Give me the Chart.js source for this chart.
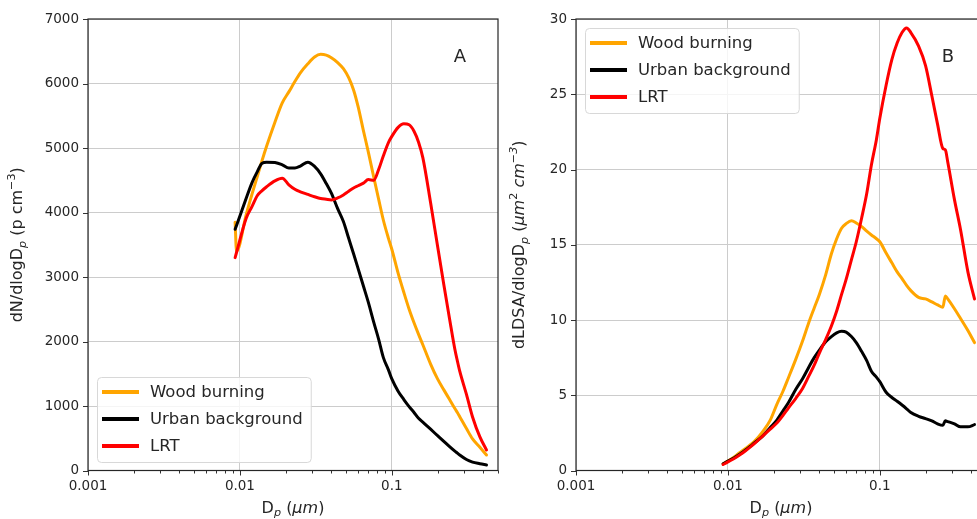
<!DOCTYPE html>
<html>
<head>
<meta charset="utf-8">
<script src="https://cdn.jsdelivr.net/npm/chart.js@4.4.0/dist/chart.umd.min.js"></script>
<style>
  html, body { margin: 0; padding: 0; background: #fff; overflow: hidden; width: 977px; height: 519px; }
  canvas { position: absolute; top: 0; }
  #chartA { left: 0; }
  #chartB { left: 490px; }
</style>
</head>
<body>
<canvas id="chartA" width="500" height="519"></canvas>
<canvas id="chartB" width="500" height="519"></canvas>
<script>
// particle diameter (um)
const diameters = [0.0093, 0.0095, 0.011, 0.012, 0.013, 0.014, 0.015, 0.017, 0.019, 0.021,
  0.023, 0.025, 0.028, 0.031, 0.034, 0.037, 0.040, 0.044, 0.048, 0.052,
  0.056, 0.060, 0.065, 0.070, 0.076, 0.082, 0.088, 0.095, 0.10, 0.11,
  0.12, 0.13, 0.14, 0.15, 0.16, 0.18, 0.20, 0.22, 0.24, 0.26,
  0.27, 0.28, 0.31, 0.34, 0.38, 0.42];

// panel A: dN/dlogDp
const woodN = [3850, 3400, 3968, 4280, 4555, 4808, 5030, 5400, 5700, 5870,
  6030, 6165, 6305, 6410, 6452, 6440, 6400, 6325, 6230, 6090,
  5900, 5640, 5270, 4940, 4550, 4200, 3880, 3600, 3430, 3060,
  2760, 2500, 2290, 2110, 1950, 1650, 1420, 1250, 1100, 960,
  900, 834, 650, 490, 360, 240];
const urbanN = [3740, 3800, 4220, 4460, 4630, 4765, 4780, 4775, 4740, 4690,
  4690, 4720, 4780, 4715, 4600, 4450, 4300, 4060, 3860, 3600,
  3360, 3130, 2860, 2610, 2300, 2030, 1750, 1560, 1420, 1230,
  1100, 990, 900, 810, 750, 640, 540, 450, 370, 300,
  270, 240, 170, 130, 105, 85];
const lrtN = [3300, 3380, 3910, 4090, 4260, 4340, 4400, 4490, 4530, 4430,
  4360, 4320, 4280, 4245, 4218, 4205, 4195, 4225, 4272, 4330,
  4380, 4415, 4455, 4510, 4500, 4670, 4880, 5085, 5180, 5320,
  5375, 5360, 5260, 5090, 4850, 4150, 3480, 2880, 2350, 1880,
  1700, 1540, 1180, 830, 520, 318];

// panel B: dLDSA/dlogDp
const woodLDSA = [0.45, 0.5, 0.9, 1.2, 1.45, 1.7, 1.95, 2.6, 3.35, 4.4,
  5.25, 6.15, 7.4, 8.6, 9.8, 10.8, 11.7, 13.0, 14.4, 15.4,
  16.1, 16.4, 16.6, 16.45, 16.2, 15.9, 15.65, 15.4, 15.2, 14.45,
  13.8, 13.2, 12.75, 12.3, 11.95, 11.5, 11.4, 11.2, 11.0, 10.85,
  11.6, 11.4, 10.75, 10.1, 9.3, 8.5];
const urbanLDSA = [0.45, 0.5, 0.85, 1.1, 1.35, 1.6, 1.85, 2.3, 2.85, 3.35,
  3.95, 4.5, 5.4, 6.1, 6.85, 7.5, 8.0, 8.55, 8.9, 9.15,
  9.25, 9.2, 8.9, 8.5, 7.9, 7.3, 6.6, 6.2, 5.9, 5.2,
  4.85, 4.6, 4.35, 4.1, 3.85, 3.6, 3.45, 3.3, 3.1, 3.0,
  3.3, 3.25, 3.1, 2.9, 2.9, 3.05];
const lrtLDSA = [0.4, 0.45, 0.8, 1.05, 1.3, 1.55, 1.8, 2.3, 2.75, 3.15,
  3.65, 4.15, 4.8, 5.45, 6.25, 7.0, 7.8, 8.7, 9.6, 10.6,
  11.7, 12.7, 14.0, 15.2, 16.8, 18.4, 20.3, 22.0, 23.4, 25.6,
  27.3, 28.4, 29.1, 29.4, 29.1, 28.2, 26.9, 24.9, 23.0, 21.4,
  21.3, 20.5, 18.0, 16.0, 13.2, 11.4];

const seriesNames = ["Wood burning", "Urban background", "LRT"];
const seriesColors = ["#ffa500", "#000000", "#ff0000"];

const xTickValues = [0.001, 0.01, 0.1];
const xTickLabels = ["0.001", "0.01", "0.1"];
const minorSteps = [1, 2, 3, 4, 5, 6, 7, 8, 9];

const FONT = "'DejaVu Sans', sans-serif";
const TEXT = "#262626";

function isMajor(v) {
  return xTickValues.some((m) => Math.abs(m - v) < m * 1e-6);
}

// draws text with sub/superscript pieces
function drawRich(ctx, parts, cx, cy, rotate) {
  const base = 16;
  const fontOf = (p) => (p.it ? "italic " : "") + (p.sub || p.sup ? base * 0.7 : base) + "px " + FONT;
  let w = 0;
  parts.forEach((p) => {
    ctx.font = fontOf(p);
    p.w = ctx.measureText(p.t).width;
    w += p.w;
  });
  ctx.save();
  ctx.translate(cx, cy);
  if (rotate) ctx.rotate(-Math.PI / 2);
  ctx.textBaseline = "middle";
  ctx.textAlign = "left";
  ctx.fillStyle = TEXT;
  let x = -w / 2;
  parts.forEach((p) => {
    ctx.font = fontOf(p);
    const dy = p.sub ? base * 0.3 : p.sup ? -base * 0.38 : 0;
    ctx.fillText(p.t, x, dy);
    x += p.w;
  });
  ctx.restore();
}

function drawLegend(ctx, a, corner) {
  ctx.save();
  ctx.font = "16.5px " + FONT;
  const tw = Math.max(...seriesNames.map((n) => ctx.measureText(n).width));
  const w = 5 + 37 + 11 + tw + 8;
  const h = 85;
  const x = a.left + 9;
  const y = corner === "top" ? a.top + 9 : a.bottom - 8.5 - h;
  ctx.fillStyle = "rgba(255,255,255,0.8)";
  ctx.strokeStyle = "#d8d8d8";
  ctx.lineWidth = 1;
  ctx.beginPath();
  ctx.roundRect(x + 0.5, y + 0.5, w, h, 4);
  ctx.fill();
  ctx.stroke();
  seriesNames.forEach((n, i) => {
    const ry = y + 15 + i * 27;
    ctx.strokeStyle = seriesColors[i];
    ctx.lineWidth = 4;
    ctx.beginPath();
    ctx.moveTo(x + 5, ry);
    ctx.lineTo(x + 42, ry);
    ctx.stroke();
    ctx.fillStyle = TEXT;
    ctx.textBaseline = "middle";
    ctx.textAlign = "left";
    ctx.fillText(n, x + 53, ry + 1);
  });
  ctx.restore();
}

const panelPlugin = {
  id: "panel",
  afterDraw(chart, args, opts) {
    const { ctx, chartArea: a, scales } = chart;
    ctx.save();
    // tick marks
    ctx.strokeStyle = "#333";
    ctx.lineWidth = 1;
    scales.x.ticks.forEach((t) => {
      const px = Math.round(scales.x.getPixelForValue(t.value)) + 0.5;
      const len = isMajor(t.value) ? 5 : 3;
      ctx.beginPath();
      ctx.moveTo(px, a.bottom);
      ctx.lineTo(px, a.bottom + len);
      ctx.stroke();
    });
    scales.y.ticks.forEach((t) => {
      const py = Math.round(scales.y.getPixelForValue(t.value)) + 0.5;
      ctx.beginPath();
      ctx.moveTo(a.left - 5, py);
      ctx.lineTo(a.left, py);
      ctx.stroke();
    });
    // frame
    ctx.strokeStyle = "#262626";
    ctx.lineWidth = 1.2;
    ctx.strokeRect(a.left, a.top, a.right - a.left, a.bottom - a.top);
    ctx.restore();

    drawLegend(ctx, a, opts.legendCorner);

    ctx.save();
    ctx.fillStyle = TEXT;
    ctx.font = "18px " + FONT;
    ctx.textAlign = "center";
    ctx.textBaseline = "middle";
    ctx.fillText(opts.letter, a.right - 38, a.top + 38);
    ctx.restore();

    drawRich(ctx, opts.yTitle, a.left - opts.yTitleOffset, (a.top + a.bottom) / 2, true);
    drawRich(ctx, xTitle, (a.left + a.right) / 2, a.bottom + 38, false);
  },
};

const xTitle = [{ t: "D" }, { t: "p", sub: true, it: true }, { t: " (" }, { t: "μm", it: true }, { t: ")" }];
const yTitleA = [{ t: "dN/dlogD" }, { t: "p", sub: true, it: true }, { t: " (p cm" }, { t: "−3", sup: true }, { t: ")" }];
const yTitleB = [{ t: "dLDSA/dlogD" }, { t: "p", sub: true, it: true }, { t: " (" }, { t: "μm", it: true },
  { t: "2", sup: true }, { t: " cm", it: true }, { t: "−3", sup: true, it: true }, { t: ")" }];

function makeDatasets(values) {
  return values.map((vals, i) => ({
    label: seriesNames[i],
    data: diameters.map((d, j) => ({ x: d, y: vals[j] })),
    borderColor: seriesColors[i],
    borderWidth: 3,
    pointRadius: 0,
    cubicInterpolationMode: "monotone",
    borderJoinStyle: "round",
    borderCapStyle: "round",
    order: 2 - i,
  }));
}

function makeChart(id, values, yMax, yStep, yWidth, rightPad, panelOpts) {
  return new Chart(document.getElementById(id), {
    type: "line",
    data: { datasets: makeDatasets(values) },
    plugins: [panelPlugin],
    options: {
      responsive: false,
      animation: false,
      layout: { padding: { top: 19, right: rightPad, left: 0, bottom: 0 } },
      plugins: { legend: { display: false }, tooltip: { enabled: false }, panel: panelOpts },
      scales: {
        x: {
          type: "logarithmic",
          min: 0.001,
          max: 0.5,
          afterBuildTicks: (scale) => {
            const t = [];
            xTickValues.forEach((v) => minorSteps.forEach((m) => {
              if (v * m <= 0.5) t.push({ value: v * m });
            }));
            scale.ticks = t;
          },
          ticks: {
            autoSkip: false,
            maxRotation: 0,
            padding: 8,
            color: TEXT,
            font: { family: FONT, size: 13.5 },
            callback: (v) => {
              const i = xTickValues.findIndex((m) => Math.abs(m - v) < m * 1e-6);
              return i >= 0 ? xTickLabels[i] : "";
            },
          },
          grid: {
            drawTicks: false,
            lineWidth: 1,
            color: (c) => (c.tick && isMajor(c.tick.value) ? "#cccccc" : "rgba(0,0,0,0)"),
          },
          border: { display: false },
          afterFit: (s) => {
            s.height = 48.5;
            s.paddingLeft = 0;
            s.paddingRight = 0;
          },
        },
        y: {
          min: 0,
          max: yMax,
          ticks: {
            stepSize: yStep,
            padding: 9,
            color: TEXT,
            font: { family: FONT, size: 13.5 },
            callback: (v) => String(v),
          },
          grid: { drawTicks: false, color: "#cccccc", lineWidth: 1 },
          border: { display: false },
          afterFit: (s) => { s.width = yWidth; },
        },
      },
    },
  });
}

makeChart("chartA", [woodN, urbanN, lrtN], 7000, 1000, 88, 2,
  { letter: "A", legendCorner: "bottom", yTitle: yTitleA, yTitleOffset: 70 });
makeChart("chartB", [woodLDSA, urbanLDSA, lrtLDSA], 30, 5, 86, 4,
  { letter: "B", legendCorner: "top", yTitle: yTitleB, yTitleOffset: 56 });
</script>
</body>
</html>
